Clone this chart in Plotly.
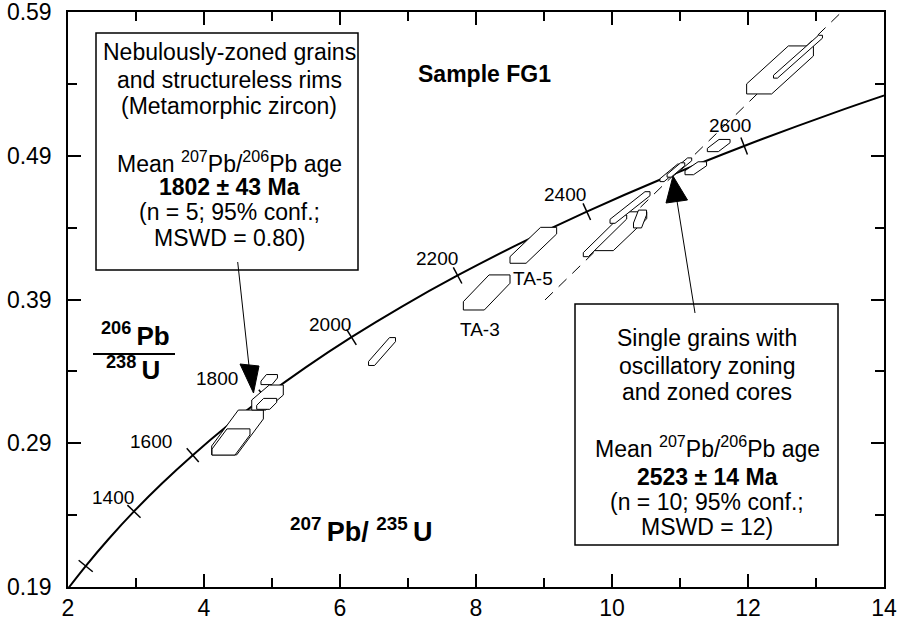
import numpy as np
import plotly.graph_objects as go

# ---------------- data ----------------
# Concordia curve (age in Ma, 207Pb/235U, 206Pb/238U)
ages = [1100, 1200, 1300, 1400, 1500, 1600, 1700, 1800, 1900, 2000,
        2100, 2200, 2300, 2400, 2500, 2600, 2700, 2800]
conc_x = [1.9545, 2.2603, 2.5977, 2.9701, 3.3810, 3.8344, 4.3348, 4.8869, 5.4962,
          6.1685, 6.9105, 7.7292, 8.6326, 9.6296, 10.7297, 11.9437, 13.2835, 14.7617]
conc_y = [0.1861, 0.2046, 0.2234, 0.2426, 0.2620, 0.2817, 0.3018, 0.3221, 0.3428,
          0.3638, 0.3851, 0.4067, 0.4287, 0.4511, 0.4738, 0.4968, 0.5202, 0.5440]
tick_ages = [1200, 1400, 1600, 1800, 2000, 2200, 2400, 2600]
label_ages = [1400, 1600, 1800, 2000, 2200, 2400, 2600]

# Error boxes: centre, half-errors and correlation sweep (data units)
box_x  = [4.493, 4.397, 4.934, 4.922, 4.959, 6.618, 8.157, 8.843, 10.118, 10.412,
          9.897, 10.265, 10.865, 11.012, 10.940, 11.232, 11.569, 12.471, 12.735]
box_y  = [0.2975, 0.2909, 0.3218, 0.3174, 0.3343, 0.3538, 0.3949, 0.4277, 0.4375, 0.4460,
          0.4343, 0.4540, 0.4781, 0.4824, 0.4801, 0.4813, 0.4971, 0.5497, 0.5589]
box_dx = [0.184, 0.169, 0.103, 0.096, 0.081, 0.044, 0.154, 0.118, 0.147, 0.059,
          0.037, 0.037, 0.030, 0.030, 0.030, 0.0625, 0.081, 0.184, 0.029]
box_dy = [0.0031, 0.0021, 0.0035, 0.0014, 0.0012, 0.0014, 0.0029, 0.0023, 0.0024, 0.0017,
          0.0014, 0.0014, 0.0010, 0.0010, 0.0010, 0.0014, 0.00115, 0.0035, 0.0010]
box_sx = [0.196, 0.110, 0.129, 0.051, 0.040, 0.154, 0.189, 0.225, 0.246, 0.037,
          0.282, 0.257, 0.130, 0.130, 0.100, 0.096, 0.086, 0.307, 0.331]
box_sy = [0.0125, 0.0070, 0.0052, 0.0024, 0.0023, 0.0083, 0.0093, 0.0102, 0.0111, 0.0045,
          0.0131, 0.0096, 0.0051, 0.0051, 0.0040, 0.0031, 0.0031, 0.0132, 0.0139]

# Discordia (dashed) end points
disc_x = [9.015, 13.376]
disc_y = [0.3897, 0.59]

# Axis ticks
x_ticks = [2, 4, 6, 8, 10, 12, 14]
x_minor = [3, 5, 7, 9, 11, 13]
y_ticks = [0.19, 0.29, 0.39, 0.49, 0.59]
y_tick_text = ["0.19", "0.29", "0.39", "0.49", "0.59"]
y_minor = [0.24, 0.34, 0.44, 0.54]

# ---------------- layout geometry ----------------
W, H = 897, 618
ML, MR, MT, MB = 68, 13, 12, 31
XR = [2, 14]
YR = [0.19, 0.59]
ppx = (W - ML - MR) / (XR[1] - XR[0])
ppy = (H - MT - MB) / (YR[1] - YR[0])
FONT = "Liberation Sans, Arial, Helvetica, sans-serif"


def pxp(px):
    return (px - ML) / (W - ML - MR)


def pyp(py):
    return (H - MB - py) / (H - MT - MB)


fig = go.Figure()

# discordia
fig.add_trace(go.Scatter(x=disc_x, y=disc_y, mode="lines",
                         line=dict(color="black", width=1, dash="11px,8px"),
                         hoverinfo="skip", showlegend=False))
# concordia
fig.add_trace(go.Scatter(x=conc_x, y=conc_y, mode="lines",
                         line=dict(color="black", width=2, shape="spline"),
                         hoverinfo="skip", showlegend=False))

# concordia tick marks perpendicular to the curve
cx = np.array(conc_x)
cy = np.array(conc_y)
slope_px = np.gradient(cy) / np.gradient(cx) * (ppy / ppx)
alpha = np.degrees(np.arctan(slope_px))
idx = [ages.index(a) for a in tick_ages]
fig.add_trace(go.Scatter(x=[conc_x[i] for i in idx], y=[conc_y[i] for i in idx],
                         mode="markers",
                         marker=dict(symbol="line-ns", size=13, angle=[-alpha[i] for i in idx],
                                     line=dict(color="black", width=1.5)),
                         hoverinfo="skip", showlegend=False))

# error boxes (hexagons = box swept along the correlation direction)
for bx, by, dx, dy, sx, sy in zip(box_x, box_y, box_dx, box_dy, box_sx, box_sy):
    xs = [bx - dx - sx, bx + dx - sx, bx + dx + sx, bx + dx + sx, bx - dx + sx, bx - dx - sx, bx - dx - sx]
    ys = [by - dy - sy, by - dy - sy, by - dy + sy, by + dy + sy, by + dy + sy, by + dy - sy, by - dy - sy]
    fig.add_trace(go.Scatter(x=xs, y=ys, mode="lines", fill="toself", fillcolor="white",
                             line=dict(color="black", width=1),
                             hoverinfo="skip", showlegend=False))

annotations = []
# concordia age labels (pixel offsets from tick)
label_offsets = {1400: (-21, 14), 1600: (-42, 14), 1800: (-47, 19), 2000: (-21, 13),
                 2200: (-21, 17), 2400: (-22, 17), 2600: (-14, 20)}
for a in label_ages:
    i = ages.index(a)
    ox, oy = label_offsets[a]
    annotations.append(dict(x=conc_x[i], y=conc_y[i], xref="x", yref="y", text=str(a),
                            showarrow=False, xshift=ox, yshift=oy,
                            font=dict(size=19, color="black", family=FONT)))


def txt(text, px, py, size=23, xanchor="center"):
    annotations.append(dict(x=pxp(px), y=pyp(py), xref="paper", yref="paper", text=text,
                            showarrow=False, xanchor=xanchor, yanchor="middle",
                            font=dict(size=size, color="black", family=FONT)))


txt("TA-3", 480, 329, 19)
txt("TA-5", 533, 278, 19)
txt("<b>Sample FG1</b>", 485, 74, 23)

# left box text
left_lines = [("Nebulously-zoned grains", 52), ("and structureless rims", 80),
              ("(Metamorphic zircon)", 106), ("Mean <sup>207</sup>Pb/<sup>206</sup>Pb age", 162),
              ("<b>1802 ± 43 Ma</b>", 187), ("(n = 5; 95% conf.;", 212), ("MSWD = 0.80)", 238)]
for t, yy in left_lines:
    txt(t, 229, yy)

right_lines = [("Single grains with", 338), ("oscillatory zoning", 366),
               ("and zoned cores", 392), ("Mean <sup>207</sup>Pb/<sup>206</sup>Pb age", 447),
               ("<b>2523 ± 14 Ma</b>", 477), ("(n = 10; 95% conf.;", 502), ("MSWD = 12)", 527)]
for t, yy in right_lines:
    txt(t, 707, yy)

# axis titles
txt("<b><sup>207 </sup>Pb/ <sup>235 </sup>U</b>", 361, 530, 27)
txt("<b><sup>206 </sup>Pb</b>", 135, 334, 26)
txt("<b><sup>238 </sup>U</b>", 133, 368, 26)

shapes = []
# text boxes
shapes.append(dict(type="rect", xref="paper", yref="paper", x0=pxp(96), x1=pxp(358),
                   y0=pyp(270), y1=pyp(33), line=dict(color="black", width=1.5), layer="above"))
shapes.append(dict(type="rect", xref="paper", yref="paper", x0=pxp(575), x1=pxp(838),
                   y0=pyp(545), y1=pyp(304), line=dict(color="black", width=1.5), layer="above"))
# fraction bar
shapes.append(dict(type="line", xref="paper", yref="paper", x0=pxp(93), x1=pxp(175),
                   y0=pyp(354), y1=pyp(354), line=dict(color="black", width=2)))
# arrows
shapes.append(dict(type="line", xref="paper", yref="paper", x0=pxp(237.7), y0=pyp(262),
                   x1=pxp(249), y1=pyp(366), line=dict(color="black", width=1)))
shapes.append(dict(type="path", xref="paper", yref="paper",
                   path=f"M {pxp(253.5)} {pyp(393)} L {pxp(240)} {pyp(364)} L {pxp(259)} {pyp(366)} Z",
                   fillcolor="black", line=dict(color="black", width=1)))
shapes.append(dict(type="line", xref="paper", yref="paper", x0=pxp(695), y0=pyp(313),
                   x1=pxp(677), y1=pyp(201), line=dict(color="black", width=1)))
shapes.append(dict(type="path", xref="paper", yref="paper",
                   path=f"M {pxp(673)} {pyp(176)} L {pxp(666)} {pyp(203)} L {pxp(687.5)} {pyp(200)} Z",
                   fillcolor="black", line=dict(color="black", width=1)))

axis_common = dict(showgrid=False, zeroline=False, showline=True, linecolor="black", linewidth=1.5,
                   mirror="ticks", ticks="inside", ticklen=13, tickwidth=1.5, tickcolor="black",
                   tickfont=dict(size=23, color="black", family=FONT), automargin=False,
                   ticklabeloverflow="allow")

fig.update_layout(
    width=W, height=H, template="none",
    margin=dict(l=ML, r=MR, t=MT, b=MB, pad=0),
    paper_bgcolor="white", plot_bgcolor="white",
    showlegend=False,
    xaxis=dict(range=[XR[0] - 1e-6, XR[1] + 1e-6], tickmode="array", tickvals=x_ticks,
               ticktext=[str(v) for v in x_ticks], ticklabelstandoff=0,
               minor=dict(tickmode="array", tickvals=x_minor, ticks="inside", ticklen=9,
                          tickwidth=1.5, tickcolor="black"),
               **axis_common),
    yaxis=dict(range=[YR[0] - 1e-6, YR[1] + 1e-6], tickmode="array", tickvals=y_ticks,
               ticktext=y_tick_text, ticklabelstandoff=10,
               minor=dict(tickmode="array", tickvals=y_minor, ticks="inside", ticklen=9,
                          tickwidth=1.5, tickcolor="black"),
               **axis_common),
    annotations=annotations,
    shapes=shapes,
)

fig.write_html("out.html")
